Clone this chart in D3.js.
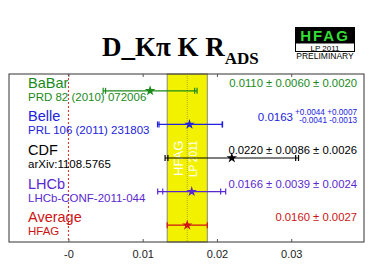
<!DOCTYPE html>
<html><head><meta charset="utf-8">
<script src="https://cdn.jsdelivr.net/npm/d3@7"></script>
<style>html,body{margin:0;padding:0;background:#fff;}svg{display:block;}</style>
</head><body>
<script>
const experiments = ["BaBar", "Belle", "CDF", "LHCb", "Average"];
const references = ["PRD 82 (2010) 072006", "PRL 106 (2011) 231803", "arXiv:1108.5765", "LHCb-CONF-2011-044", "HFAG"];
const values = [0.0110, 0.0163, 0.0220, 0.0166, 0.0160];
const statPlus = [0.0060, 0.0044, 0.0086, 0.0039, 0.0027];
const statMinus = [0.0060, 0.0041, 0.0086, 0.0039, 0.0027];
const systPlus = [0.0020, 0.0007, 0.0026, 0.0024, 0];
const systMinus = [0.0020, 0.0013, 0.0026, 0.0024, 0];
const colors = ["#1a8a1a", "#2222dd", "#000000", "#5a28d0", "#cc1414"];
const xTicks = [0, 0.01, 0.02, 0.03];
const xTickLabels = ["-0", "0.01", "0.02", "0.03"];
const averageValue = 0.0160, averageError = 0.0027;

(function () {
const W = 374, H = 280;
const svg = d3.select("body").append("svg").attr("width", W).attr("height", H);
const sans = "'Liberation Sans', Arial, Helvetica, sans-serif";

const x = d3.scaleLinear().domain([-0.008, 0.0398]).range([9, 364]);
const y = d3.scaleBand().domain(d3.range(experiments.length)).range([74, 242]).padding(0);
const yc = i => y(i) + y.bandwidth() / 2;
const yTop = 74, yBot = 242;

// yellow average band
svg.append("rect")
  .attr("x", x(averageValue - averageError)).attr("y", yTop)
  .attr("width", x(averageValue + averageError) - x(averageValue - averageError))
  .attr("height", yBot - yTop)
  .attr("fill", "#f2f200").attr("stroke", "#8a8a70").attr("stroke-width", 1);
svg.append("line")
  .attr("x1", x(averageValue)).attr("x2", x(averageValue))
  .attr("y1", yTop).attr("y2", yBot)
  .attr("stroke", "#b0b020").attr("stroke-width", 1).attr("stroke-dasharray", "1,1");

// band labels (rotated)
const bandMid = x(averageValue);
svg.append("text").attr("transform", `translate(${bandMid - 4},176) rotate(-90)`)
  .attr("font-family", sans).attr("font-size", 13).attr("fill", "#fff").text("HFAG");
svg.append("text").attr("transform", `translate(${bandMid + 10},177) rotate(-90)`)
  .attr("font-family", sans).attr("font-size", 10).attr("fill", "#fff").text("LP 2011");

// zero line
svg.append("line")
  .attr("x1", x(0)).attr("x2", x(0)).attr("y1", yTop).attr("y2", yBot)
  .attr("stroke", "#dd2222").attr("stroke-width", 1).attr("stroke-dasharray", "2,2");

// frame
svg.append("rect").attr("x", x.range()[0]).attr("y", yTop)
  .attr("width", x.range()[1] - x.range()[0]).attr("height", yBot - yTop)
  .attr("fill", "none").attr("stroke", "#333").attr("stroke-width", 1);

// axis
const axis = d3.axisBottom(x).tickValues(xTicks).tickSize(-3).tickPadding(8)
  .tickFormat((d, i) => xTickLabels[i]);
const gAxis = svg.append("g").attr("transform", `translate(0,${yBot})`).call(axis);
gAxis.select(".domain").remove();
gAxis.selectAll("line").attr("stroke", "#555");
gAxis.selectAll("text").attr("font-family", sans).attr("font-size", 11).attr("fill", "#222");
const axisTop = d3.axisTop(x).tickValues(xTicks).tickSize(-3).tickFormat("");
const gTop = svg.append("g").attr("transform", `translate(0,${yTop})`).call(axisTop);
gTop.select(".domain").remove();
gTop.selectAll("line").attr("stroke", "#555");

// error bars
const rows = svg.append("g").selectAll("g").data(experiments).join("g")
  .attr("transform", (d, i) => `translate(0,${yc(i)})`);
rows.each(function (d, i) {
  const g = d3.select(this);
  const c = colors[i];
  const totM = Math.hypot(statMinus[i], systMinus[i]);
  const totP = Math.hypot(statPlus[i], systPlus[i]);
  g.append("line").attr("x1", x(values[i] - totM)).attr("x2", x(values[i] + totP))
    .attr("y1", 0).attr("y2", 0).attr("stroke", c).attr("stroke-width", 1.2);
  const caps = [values[i] - totM, values[i] + totP];
  if (systPlus[i] > 0) caps.push(values[i] - statMinus[i], values[i] + statPlus[i]);
  caps.forEach(v => {
    g.append("line").attr("x1", x(v)).attr("x2", x(v)).attr("y1", -3).attr("y2", 3)
      .attr("stroke", c).attr("stroke-width", 1.2);
  });
  g.append("path").attr("d", d3.symbol(d3.symbolStar, 34)())
    .attr("transform", `translate(${x(values[i])},0)`).attr("fill", c);
  // left labels
  g.append("text").attr("x", 28).attr("y", -3).attr("font-family", sans)
    .attr("font-size", 14.5).attr("fill", c).text(d);
  g.append("text").attr("x", 28).attr("y", 10).attr("font-family", sans)
    .attr("font-size", 11.5).attr("fill", c).text(references[i]);
  // value text
  const f = d3.format(".4f");
  if (statPlus[i] !== statMinus[i] || systPlus[i] !== systMinus[i]) {
    g.append("text").attr("x", 293).attr("y", -3).attr("font-family", sans)
      .attr("font-size", 11.5).attr("fill", c).attr("text-anchor", "end").text(f(values[i]));
    g.append("text").attr("x", 357).attr("y", -9).attr("font-family", sans)
      .attr("font-size", 8.2).attr("fill", c).attr("text-anchor", "end")
      .text(`+${f(statPlus[i])} +${f(systPlus[i])}`);
    g.append("text").attr("x", 357).attr("y", -1).attr("font-family", sans)
      .attr("font-size", 8.2).attr("fill", c).attr("text-anchor", "end")
      .text(`-${f(statMinus[i])} -${f(systMinus[i])}`);
  } else {
    let s = `${f(values[i])} \u00b1 ${f(statPlus[i])}`;
    if (systPlus[i] > 0) s += ` \u00b1 ${f(systPlus[i])}`;
    g.append("text").attr("x", 357).attr("y", -4).attr("font-family", sans)
      .attr("font-size", 11.3).attr("fill", c).attr("text-anchor", "end").text(s);
  }
});

// title
const title = svg.append("text").attr("x", 102).attr("y", 56)
  .attr("font-family", "'Liberation Serif', 'Times New Roman', serif")
  .attr("font-weight", "bold").attr("font-size", 27).attr("fill", "#000");
title.append("tspan").text("D_K\u03c0 K R");
title.append("tspan").attr("font-size", 17).attr("dy", 8).text("ADS");

// HFAG logo
const logo = svg.append("g");
logo.append("rect").attr("x", 295).attr("y", 27).attr("width", 60).attr("height", 16).attr("fill", "#000");
logo.append("text").attr("x", 325).attr("y", 41).attr("text-anchor", "middle")
  .attr("font-family", sans).attr("font-weight", "bold").attr("font-size", 15)
  .attr("letter-spacing", 2).attr("fill", "#33dd33").text("HFAG");
logo.append("rect").attr("x", 295.5).attr("y", 43).attr("width", 59).attr("height", 8.5)
  .attr("fill", "#fff").attr("stroke", "#000").attr("stroke-width", 1);
logo.append("text").attr("x", 325).attr("y", 50.5).attr("text-anchor", "middle")
  .attr("font-family", sans).attr("font-size", 8).attr("fill", "#000").text("LP 2011");
logo.append("text").attr("x", 325).attr("y", 59).attr("text-anchor", "middle")
  .attr("font-family", sans).attr("font-size", 8.5).attr("fill", "#000").text("PRELIMINARY");
})();
</script>
</body></html>
